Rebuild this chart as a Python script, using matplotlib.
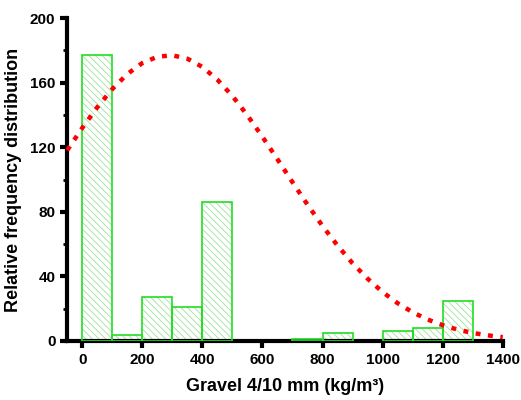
import matplotlib
matplotlib.use("Agg")
import matplotlib.pyplot as plt
from matplotlib.ticker import MultipleLocator

# histogram bins (left edges, width 100) and heights
bin_left = [0, 100, 200, 300, 400, 500, 600, 700, 800, 900, 1000, 1100, 1200]
bin_height = [177, 4, 27, 21, 86, 0, 0, 1, 5, 0, 6, 8, 25]
bin_width = 100

# fitted distribution curve
curve_x = [-50, 0, 50, 100, 150, 200, 250, 300, 350, 400, 450, 500, 550, 600,
           650, 700, 750, 800, 850, 900, 950, 1000, 1050, 1100, 1150, 1200,
           1250, 1300, 1350, 1400]
curve_y = [118.1, 131.9, 144.7, 156.0, 165.3, 172.1, 176.0, 176.9, 174.8,
           169.7, 161.8, 151.7, 139.7, 126.4, 112.5, 98.3, 84.4, 71.2, 59.1,
           48.1, 38.6, 30.3, 23.4, 17.8, 13.3, 9.8, 7.0, 5.0, 3.5, 2.4]

plt.rcParams['font.family'] = ['Liberation Sans', 'DejaVu Sans']
plt.rcParams['hatch.linewidth'] = 0.6

fig = plt.figure(figsize=(5.21, 4.0), dpi=100)
ax = fig.add_axes([0.129, 0.1475, 0.836, 0.8075])

# empty bins draw nothing
left = [x for x, h in zip(bin_left, bin_height) if h > 0]
height = [h for h in bin_height if h > 0]

# hatch layer (light green) then outline (green)
ax.bar(left, height, width=bin_width, align='edge', facecolor='none',
       edgecolor='#9be39b', hatch='\\\\\\\\\\', linewidth=0, zorder=2)
ax.bar(left, height, width=bin_width, align='edge', facecolor='none',
       edgecolor='#22dd22', linewidth=1.2, zorder=3)

ax.plot(curve_x, curve_y, color='#ff0000', linewidth=3.2,
        linestyle=(0, (1.1, 1.7)), zorder=4, clip_on=False)

ax.set_xlim(-50, 1400)
ax.set_ylim(0, 200)
ax.set_xticks(range(0, 1401, 200))
ax.set_yticks(range(0, 201, 40))
ax.yaxis.set_minor_locator(MultipleLocator(20))

for s in ['top', 'right']:
    ax.spines[s].set_visible(False)
for s in ['left', 'bottom']:
    ax.spines[s].set_linewidth(3)

ax.tick_params(axis='both', which='major', direction='out', length=5, width=3,
               labelsize=11)
ax.tick_params(axis='y', which='minor', direction='out', length=3, width=2)
for lab in ax.get_xticklabels() + ax.get_yticklabels():
    lab.set_fontweight('bold')

ax.set_xlabel('Gravel 4/10 mm (kg/m³)', fontsize=13, fontweight='bold',
              labelpad=8)
ax.set_ylabel('Relative frequency distribution', fontsize=13,
              fontweight='bold', labelpad=6)

fig.savefig('out.png', dpi=100)
